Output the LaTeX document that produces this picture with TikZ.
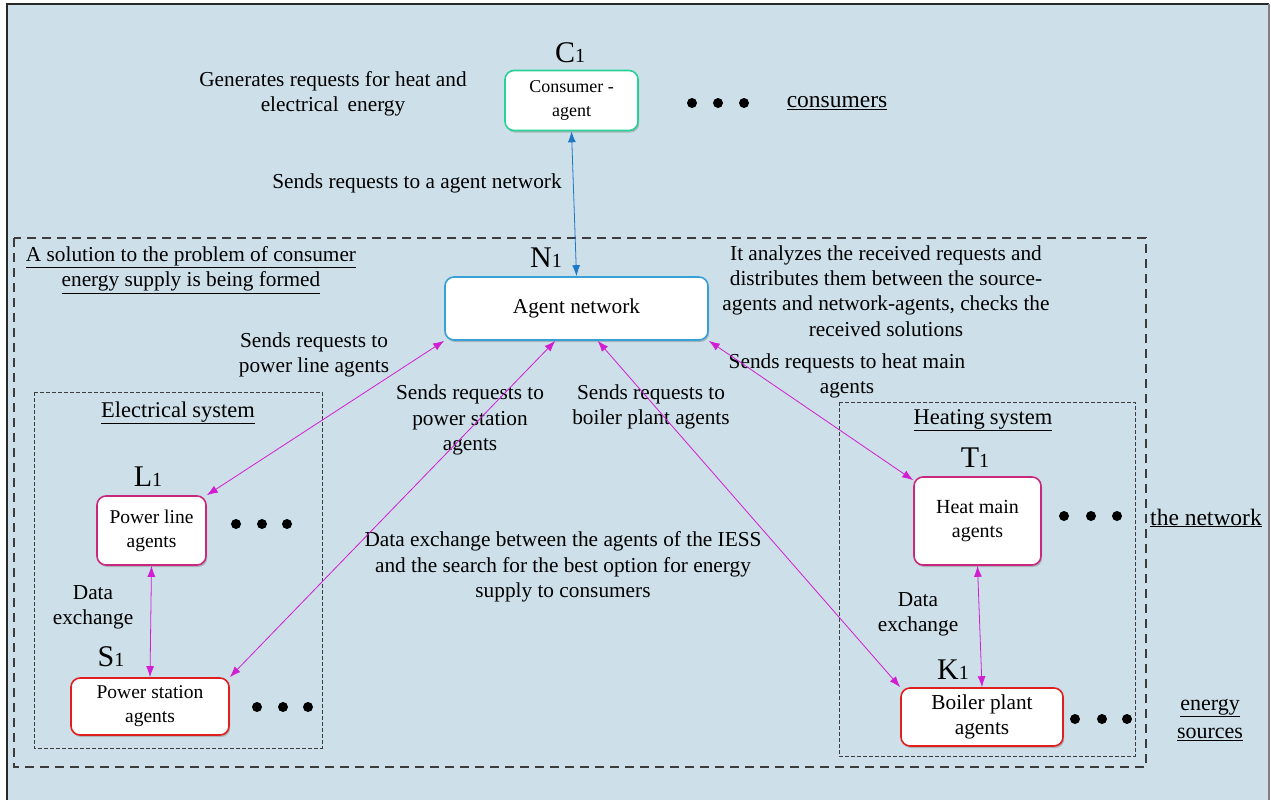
\documentclass[tikz,border=0pt]{standalone}
\usepackage{fontspec}
\setmainfont{Liberation Serif}
\usetikzlibrary{arrows.meta,shadows,calc}
\definecolor{bgblue}{RGB}{205,223,232}
\definecolor{framedark}{RGB}{40,40,40}
\definecolor{dashgray}{RGB}{60,60,60}
\definecolor{cgreen}{RGB}{40,210,150}
\definecolor{nblue}{RGB}{55,160,215}
\definecolor{lmag}{RGB}{200,40,125}
\definecolor{sred}{RGB}{225,30,30}
\definecolor{amag}{RGB}{210,30,210}
\definecolor{ablue}{RGB}{30,120,200}
\newcommand{\lbl}[2]{{\fontsize{30}{30}\selectfont #1}{\fontsize{20}{20}\selectfont #2}}
\tikzset{
  agentbox/.style={draw=#1, line width=1.6pt, rounded corners=9pt, fill=white,
    drop shadow={shadow xshift=1.2pt, shadow yshift=-2pt, opacity=0.45},
    align=center, inner sep=0pt, font=\fontsize{19.5}{24}\selectfont},
  txt/.style={align=center, inner sep=0pt, font=\fontsize{21.3}{25.3}\selectfont},
  bigtxt/.style={align=center, inner sep=0pt, font=\fontsize{23.5}{28}\selectfont},
  biglbl/.style={inner sep=0pt},
  magarrow/.style={amag, line width=0.8pt, {Latex[length=11pt,width=8pt]}-{Latex[length=11pt,width=8pt]}},
  bluearrow/.style={ablue, line width=0.8pt, {Latex[length=11pt,width=8pt]}-{Latex[length=11pt,width=8pt]}},
  bigdash/.style={dashgray, line width=2pt, dash pattern=on 9pt off 6pt},
  smalldash/.style={dashgray, line width=1pt, dash pattern=on 4pt off 2pt},
  dot/.style={fill=black, circle, inner sep=0pt, minimum size=10pt}
}
\begin{document}
\begin{tikzpicture}[x=1pt,y=-1pt]
\useasboundingbox (0,0) rectangle (1271,800);
% background frame
\fill[bgblue] (7,4) rectangle (1269,800);
\draw[framedark, line width=2.5pt] (7,800) -- (7,4) -- (1269,4);
\draw[gray, line width=1.5pt] (1269,4) -- (1269,800);

% dashed regions
\draw[bigdash] (14,238) rectangle (1146,767);
\draw[smalldash] (34,392) rectangle (322,748);
\draw[smalldash] (839,402) rectangle (1135,756);

% agent boxes
\node[agentbox=cgreen, minimum width=133pt, minimum height=60pt, font=\fontsize{18}{24}\selectfont] (C) at (571.5,100.5) {Consumer -\\agent};
\node[agentbox=nblue, minimum width=263pt, minimum height=63pt, font=\fontsize{21.3}{24}\selectfont] (N) at (576.5,308.5) {Agent network};
\node[agentbox=lmag, minimum width=109pt, minimum height=69pt] (L) at (151.5,530.5) {Power line\\agents};
\node[agentbox=sred, minimum width=158pt, minimum height=57pt] (S) at (150,706.5) {Power station\\agents};
\node[agentbox=lmag, minimum width=127pt, minimum height=88pt, font=\fontsize{20}{24}\selectfont] (T) at (977.5,521) {Heat main\\agents};
\node[agentbox=sred, minimum width=162pt, minimum height=58pt, font=\fontsize{21.3}{25}\selectfont] (K) at (982,717) {Boiler plant\\agents};

% big labels
\node[biglbl] (Clbl) at (570,53) {\lbl{C}{1}};
\node[biglbl] (Nlbl) at (546,258) {\lbl{N}{1}};
\node[biglbl] (Llbl) at (148,477) {\lbl{L}{1}};
\node[biglbl] (Slbl) at (111,657) {\lbl{S}{1}};
\node[biglbl] (Tlbl) at (975,458) {\lbl{T}{1}};
\node[biglbl] (Klbl) at (953,670) {\lbl{K}{1}};

% dots
\foreach \x in {692,718,744} \node[dot] at (\x,103) {};
\foreach \x in {236,262,287} \node[dot] at (\x,524) {};
\foreach \x in {257,283,308} \node[dot] at (\x,707) {};
\foreach \x in {1064,1091,1117} \node[dot] at (\x,516) {};
\foreach \x in {1075,1102,1127} \node[dot] at (\x,719) {};

% texts
\node[txt] (t1) at (333,94) {Generates requests for heat and\\electrical\, energy};
\node[bigtxt] (t2) at (837,103) {\underline{consumers}};
\node[txt] (t3) at (417,183) {Sends requests to a agent network};
\node[txt] (t4) at (191,270) {\underline{A solution to the problem of consumer}\\\underline{energy supply is being formed}};
\node[txt] (t5) at (886,291) {It analyzes the received requests and\\distributes them between the source-\\agents and network-agents, checks the\\received solutions};
\node[txt] (t6) at (314,355) {Sends requests to\\power line agents};
\node[txt] (t7) at (470,420) {Sends requests to\\power station\\agents};
\node[txt] (t8) at (651,407) {Sends requests to\\boiler plant agents};
\node[txt] (t9) at (847,376) {Sends requests to heat main\\agents};
\node[txt, font=\fontsize{22.5}{27}\selectfont] (t10) at (178,413) {\underline{Electrical\hspace{5pt}system}};
\node[txt, font=\fontsize{22.5}{27}\selectfont] (t11) at (983,420) {\underline{Heating\hspace{5pt}system}};
\node[bigtxt] (t12) at (1206,518) {\underline{the network}};
\node[txt] (t13) at (563,567) {Data exchange between the agents of the IESS\\and the search for the best option for energy\\supply to consumers};
\node[txt] (t14) at (93,607.5) {Data\\exchange};
\node[txt] (t15) at (918,614.5) {Data\\exchange};
\node[txt, font=\fontsize{22}{28}\selectfont] (t16) at (1210,720) {\underline{energy}\\\underline{sources}};

% connectors
\draw[bluearrow] (C.south) -- (N.north);
\draw[magarrow] (N.south west) -- (L.north east);
\draw[magarrow] ($(N.south west)!0.42!(N.south east)$) -- (S.north east);
\draw[magarrow] ($(N.south west)!0.58!(N.south east)$) -- (K.north west);
\draw[magarrow] (N.south east) -- ([yshift=-4pt]T.north west);
\draw[magarrow] (L.south) -- (S.north);
\draw[magarrow] (T.south) -- (K.north);
\end{tikzpicture}
\end{document}
